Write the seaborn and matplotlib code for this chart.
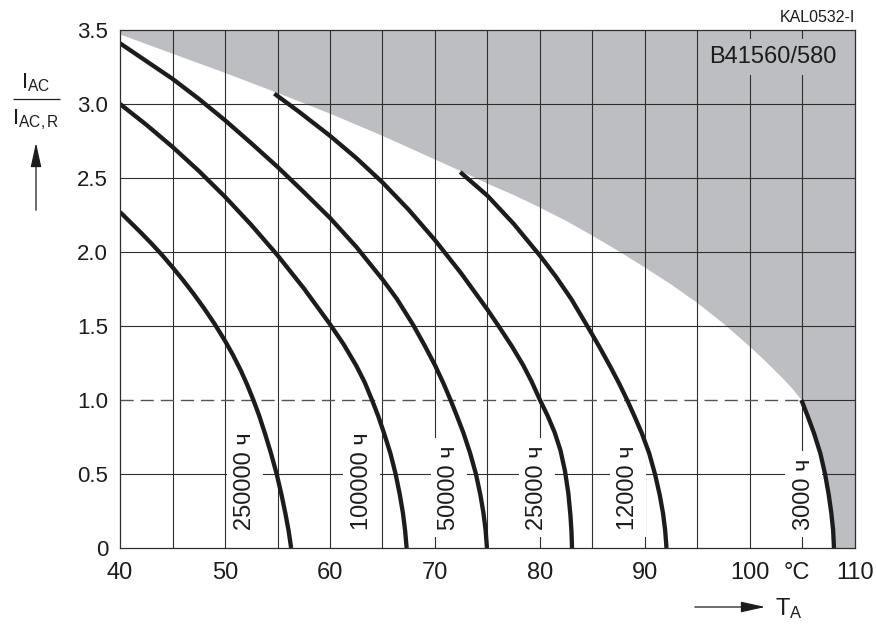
import matplotlib
matplotlib.use("Agg")
import matplotlib.pyplot as plt
import seaborn as sns
import pandas as pd
import numpy as np
from matplotlib.lines import Line2D

# service life curves (T in degC, I_AC / I_AC,R)
hours = ['250000', '100000', '50000', '25000', '12000', '3000']

t_250000 = [40, 41, 42, 43, 44, 45, 46, 47, 48, 49, 50.0, 50.75, 51.5, 52.1,
            52.7, 53.25, 53.8, 54.38, 54.92, 55.38, 55.75, 56.05, 56.3]
i_250000 = [2.27, 2.20, 2.13, 2.057, 1.98, 1.897, 1.81, 1.718, 1.62, 1.515, 1.40, 1.305,
            1.20, 1.105, 1.0, 0.895, 0.775, 0.64, 0.5, 0.36, 0.234, 0.12, 0.0]

t_100000 = [40, 42.5, 45, 47.5, 50, 52.5, 55, 57.5, 60, 61.3, 62.5,
            63.3, 64.0, 64.6, 65.15, 65.75, 66.25, 66.65, 66.95, 67.15, 67.3]
i_100000 = [3.0, 2.86, 2.71, 2.548, 2.373, 2.183, 1.978, 1.755, 1.512, 1.376, 1.232,
            1.12, 1.0, 0.89, 0.775, 0.64, 0.5, 0.36, 0.234, 0.12, 0.0]

t_50000 = [40, 42.5, 45, 47.5, 50, 52.5, 55, 57.5, 60, 62.5, 65, 66.35, 67.9, 69,
           70, 70.82, 71.48, 72.1, 72.72, 73.35, 73.9, 74.32, 74.62, 74.82, 74.95]
i_50000 = [3.41, 3.29, 3.17, 3.035, 2.89, 2.735, 2.575, 2.405, 2.23, 2.035, 1.815,
           1.685, 1.51, 1.37, 1.235, 1.11, 1.0, 0.89, 0.775, 0.64, 0.5, 0.36, 0.234,
           0.12, 0.0]

t_25000 = [54.7, 57, 60, 62.5, 65, 67.5, 70, 72.5, 75, 76.1, 77.35, 78.4, 79.2, 80.0,
           80.75, 81.4, 81.95, 82.38, 82.7, 82.9, 83.0, 83.05]
i_25000 = [3.07, 2.95, 2.785, 2.635, 2.47, 2.285, 2.08, 1.855, 1.61, 1.495, 1.36, 1.235,
           1.125, 1.0, 0.89, 0.78, 0.66, 0.52, 0.37, 0.22, 0.11, 0.0]

t_12000 = [72.4, 75, 77.5, 80, 81.5, 83.0, 84.5, 85.65, 86.7, 87.55, 88.3, 89.0, 89.7,
           90.4, 90.95, 91.4, 91.72, 91.92, 92.05]
i_12000 = [2.54, 2.38, 2.19, 1.975, 1.835, 1.68, 1.5, 1.36, 1.225, 1.11, 1.0, 0.89,
           0.775, 0.64, 0.5, 0.36, 0.234, 0.12, 0.0]

t_3000 = [104.9, 105.5, 106.1, 106.7, 107.15, 107.5, 107.75, 107.92, 108.0]
i_3000 = [1.0, 0.89, 0.775, 0.64, 0.5, 0.36, 0.234, 0.12, 0.0]

# upper limit of the allowed area (grey above it)
env_t = [40, 45, 50, 55, 60, 65, 70, 72.5, 75, 77.5, 80, 82.5, 85, 87.5, 90, 92.5,
         95, 97.5, 100, 101.5, 103, 104, 104.9]
env_i = [3.47, 3.34, 3.21, 3.075, 2.935, 2.785, 2.625, 2.545, 2.462, 2.385, 2.30,
         2.21, 2.11, 2.005, 1.895, 1.78, 1.655, 1.515, 1.36, 1.26, 1.155, 1.08, 1.0]

# where the rotated "xxxx ч" labels sit
label_t = [51.9, 63.0, 71.3, 79.7, 88.4, 105.1]

x_ticks = [40, 50, 60, 70, 80, 90, 100, 110]
y_ticks = [0, 0.5, 1.0, 1.5, 2.0, 2.5, 3.0, 3.5]
y_ticklabels = ['0', '0.5', '1.0', '1.5', '2.0', '2.5', '3.0', '3.5']

curves = {
    '250000': (t_250000, i_250000),
    '100000': (t_100000, i_100000),
    '50000': (t_50000, i_50000),
    '25000': (t_25000, i_25000),
    '12000': (t_12000, i_12000),
    '3000': (t_3000, i_3000),
}
rows = []
for h in hours:
    for t, i in zip(*curves[h]):
        rows.append({'hours': h, 'T': t, 'I': i})
df = pd.DataFrame(rows)

sns.set_style('white')
plt.rcParams['font.family'] = ['Liberation Sans', 'DejaVu Sans']
plt.rcParams['mathtext.fontset'] = 'custom'
plt.rcParams['mathtext.rm'] = 'Liberation Sans'
plt.rcParams['mathtext.it'] = 'Liberation Sans'
plt.rcParams['mathtext.default'] = 'regular'
plt.rcParams['lines.solid_capstyle'] = 'butt'
plt.rcParams['lines.solid_joinstyle'] = 'round'

grey = '#bdbec1'
ink = '#1c1c1c'
gridc = '#2e2e2e'

fig = plt.figure(figsize=(8.76, 6.26), dpi=100)
ax = fig.add_axes([0.137, 0.1246, 0.839, 0.8275])

# grey forbidden area: above the envelope and right of the 3000 h curve
poly_t = env_t + t_3000[1:] + [110, 110, 40]
poly_i = env_i + i_3000[1:] + [0, 3.5, 3.5]
ax.fill(poly_t, poly_i, color=grey, lw=0, zorder=0.2)

# grid
for x in np.arange(45, 110, 5):
    ax.axvline(x, color=gridc, lw=0.8, zorder=1)
for y in [0.5, 1.5, 2.0, 2.5, 3.0]:
    ax.axhline(y, color=gridc, lw=0.8, zorder=1)
ax.hlines(1.0, t_3000[0], 110, color=gridc, lw=0.8, zorder=1)
ax.hlines(1.0, 40, t_3000[0], color='#555555', lw=1.0,
          linestyles=(0, (9.5, 5)), zorder=1)

sns.lineplot(data=df, x='T', y='I', hue='hours', hue_order=hours,
             palette=[ink] * len(hours), estimator=None, sort=False,
             legend=False, lw=3.1, zorder=3, ax=ax)

for h, t in zip(hours, label_t):
    ax.text(t, 0.122, f'{h} ч', rotation=90, ha='center', va='bottom',
            fontsize=17, color=ink, zorder=2,
            bbox=dict(boxstyle='square,pad=0.3', fc='white', ec='none'))

ax.text(108.2, 3.32, 'B41560/580', ha='right', va='center', fontsize=17,
        color=ink, zorder=2,
        bbox=dict(boxstyle='square,pad=0.3', fc=grey, ec='none'))

ax.set_xlim(40, 110)
ax.set_ylim(0, 3.5)
ax.set_xticks(x_ticks)
ax.set_xticklabels([str(x) for x in x_ticks], fontsize=17, color=ink)
ax.set_yticks(y_ticks)
ax.set_yticklabels(y_ticklabels, fontsize=16, color=ink)
ax.tick_params(axis='x', length=0, pad=10)
ax.tick_params(axis='y', length=0, pad=8.5)
ax.set_xlabel('')
ax.set_ylabel('')
for s in ax.spines.values():
    s.set_visible(True)
    s.set_color(gridc)
    s.set_linewidth(0.9)
    s.set_zorder(4)

ax.text(104.5, -0.027, '°C', transform=ax.get_xaxis_transform(),
        ha='center', va='top', fontsize=17, color=ink)

# axis labels drawn like the datasheet
fig.text(36 / 876, 1 - 88 / 626, 'I$_{AC}$', ha='center', va='baseline',
         fontsize=16, color=ink)
fig.add_artist(Line2D([13 / 876, 60 / 876], [1 - 99 / 626, 1 - 99 / 626],
                      color=ink, lw=0.9))
fig.text(36 / 876, 1 - 124 / 626, 'I$_{AC,R}$', ha='center', va='baseline',
         fontsize=16, color=ink)
ax.annotate('', xy=(36 / 876, 1 - 140 / 626), xytext=(36 / 876, 1 - 213 / 626),
            xycoords='figure fraction', textcoords='figure fraction',
            arrowprops=dict(arrowstyle='-|>,head_length=1.0,head_width=0.22',
                            mutation_scale=15, lw=0.9, color=ink),
            annotation_clip=False)

fig.text(775 / 876, 1 - 615 / 626, 'T$_{A}$', ha='left', va='baseline',
         fontsize=17, color=ink)
ax.annotate('', xy=(768 / 876, 1 - 607 / 626), xytext=(692 / 876, 1 - 607 / 626),
            xycoords='figure fraction', textcoords='figure fraction',
            arrowprops=dict(arrowstyle='-|>,head_length=1.0,head_width=0.22',
                            mutation_scale=15, lw=0.9, color=ink),
            annotation_clip=False)

fig.text(855 / 876, 1 - 17 / 626, 'KAL0532-I', ha='right', va='center',
         fontsize=11.5, color=ink)

fig.savefig('out.png', dpi=100)
